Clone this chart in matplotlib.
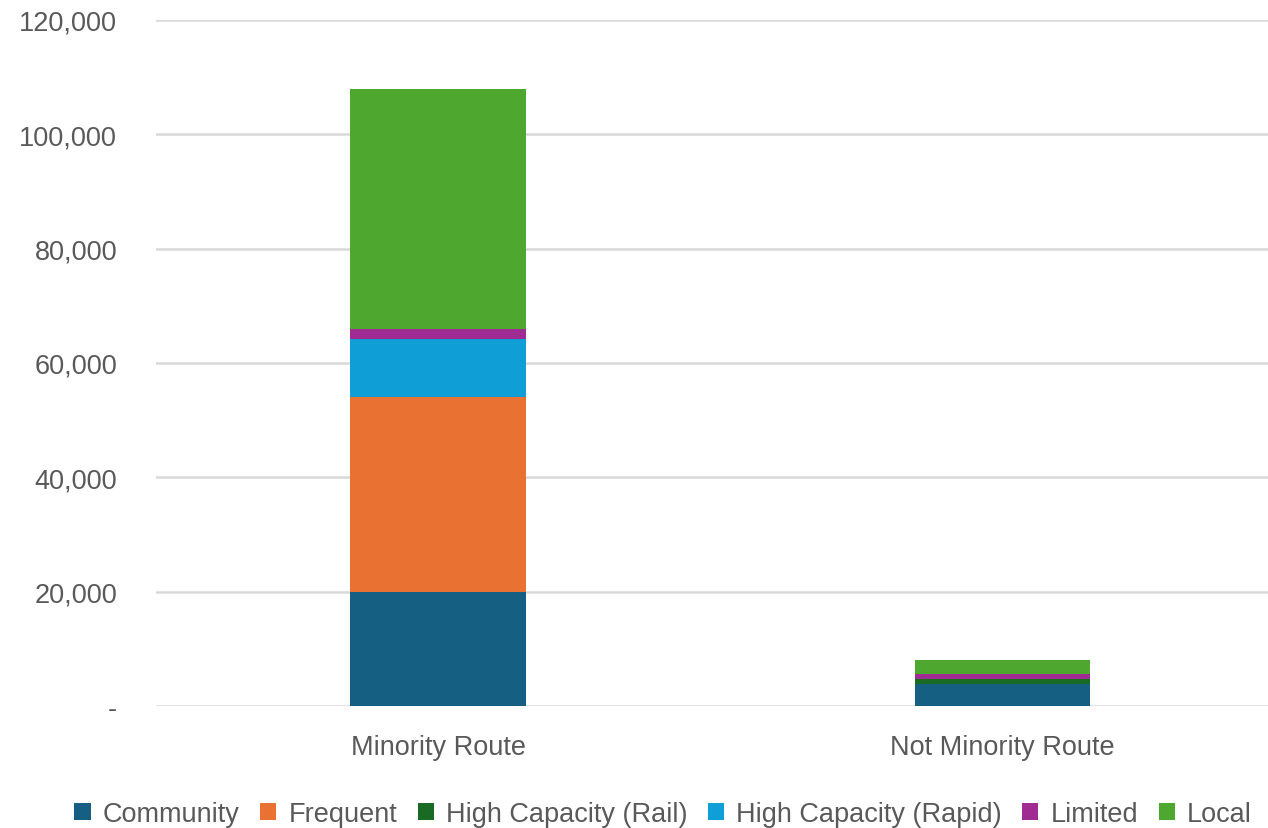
import matplotlib
matplotlib.use("Agg")
import matplotlib.pyplot as plt
from matplotlib.ticker import FuncFormatter
from matplotlib.patches import Patch

categories = ["Minority Route", "Not Minority Route"]
series_names = ["Community", "Frequent", "High Capacity (Rail)",
                "High Capacity (Rapid)", "Limited", "Local"]
community = [19900, 3850]
frequent = [34100, 0]
rail = [0, 820]
rapid = [10150, 0]
limited = [1750, 1000]
local = [42000, 2330]
colors = ["#156082", "#E97132", "#196B24", "#0F9ED5", "#A02B93", "#4EA72E"]

plt.rcParams["font.family"] = ["Liberation Sans", "DejaVu Sans"]
text_color = "#595959"

fig = plt.figure(figsize=(12.68, 8.29), dpi=100)
ax = fig.add_axes([156 / 1268, 1 - 707 / 829, (1268 - 156) / 1268, (707 - 21) / 829])

x = list(range(len(categories)))
bottom = [0.0] * len(categories)
for vals, color in zip([community, frequent, rail, rapid, limited, local], colors):
    ax.bar(x, vals, width=0.311, bottom=bottom, color=color, linewidth=0, zorder=3)
    bottom = [b + v for b, v in zip(bottom, vals)]

ax.set_ylim(0, 120000)
ax.set_xlim(-0.5, 1 + (1268 - 1002) / 565)
ax.set_yticks(range(0, 120001, 20000))
ax.yaxis.set_major_formatter(FuncFormatter(lambda v, p: "-" if v == 0 else f"{int(v):,}"))
ax.set_xticks(x)
ax.set_xticklabels(categories)
ax.grid(axis="y", color="#D9D9D9", linewidth=1.8, zorder=0)
for s in ax.spines.values():
    s.set_visible(False)
ax.tick_params(axis="y", length=0, pad=28, labelsize=19.5, labelcolor=text_color)
ax.tick_params(axis="x", length=0, pad=20, labelsize=19.5, labelcolor=text_color)

handles = [Patch(facecolor=c, edgecolor="none") for c in colors]
fig.legend(handles, series_names, loc="center", bbox_to_anchor=(0.523, 0.017),
           ncol=6, frameon=False, labelcolor=text_color,
           handlelength=0.6, handleheight=0.6, handletextpad=0.45, columnspacing=0.75,
           prop={"family": ["Liberation Sans", "DejaVu Sans"], "size": 19.5})

fig.savefig("out.png", dpi=100, facecolor="white")
